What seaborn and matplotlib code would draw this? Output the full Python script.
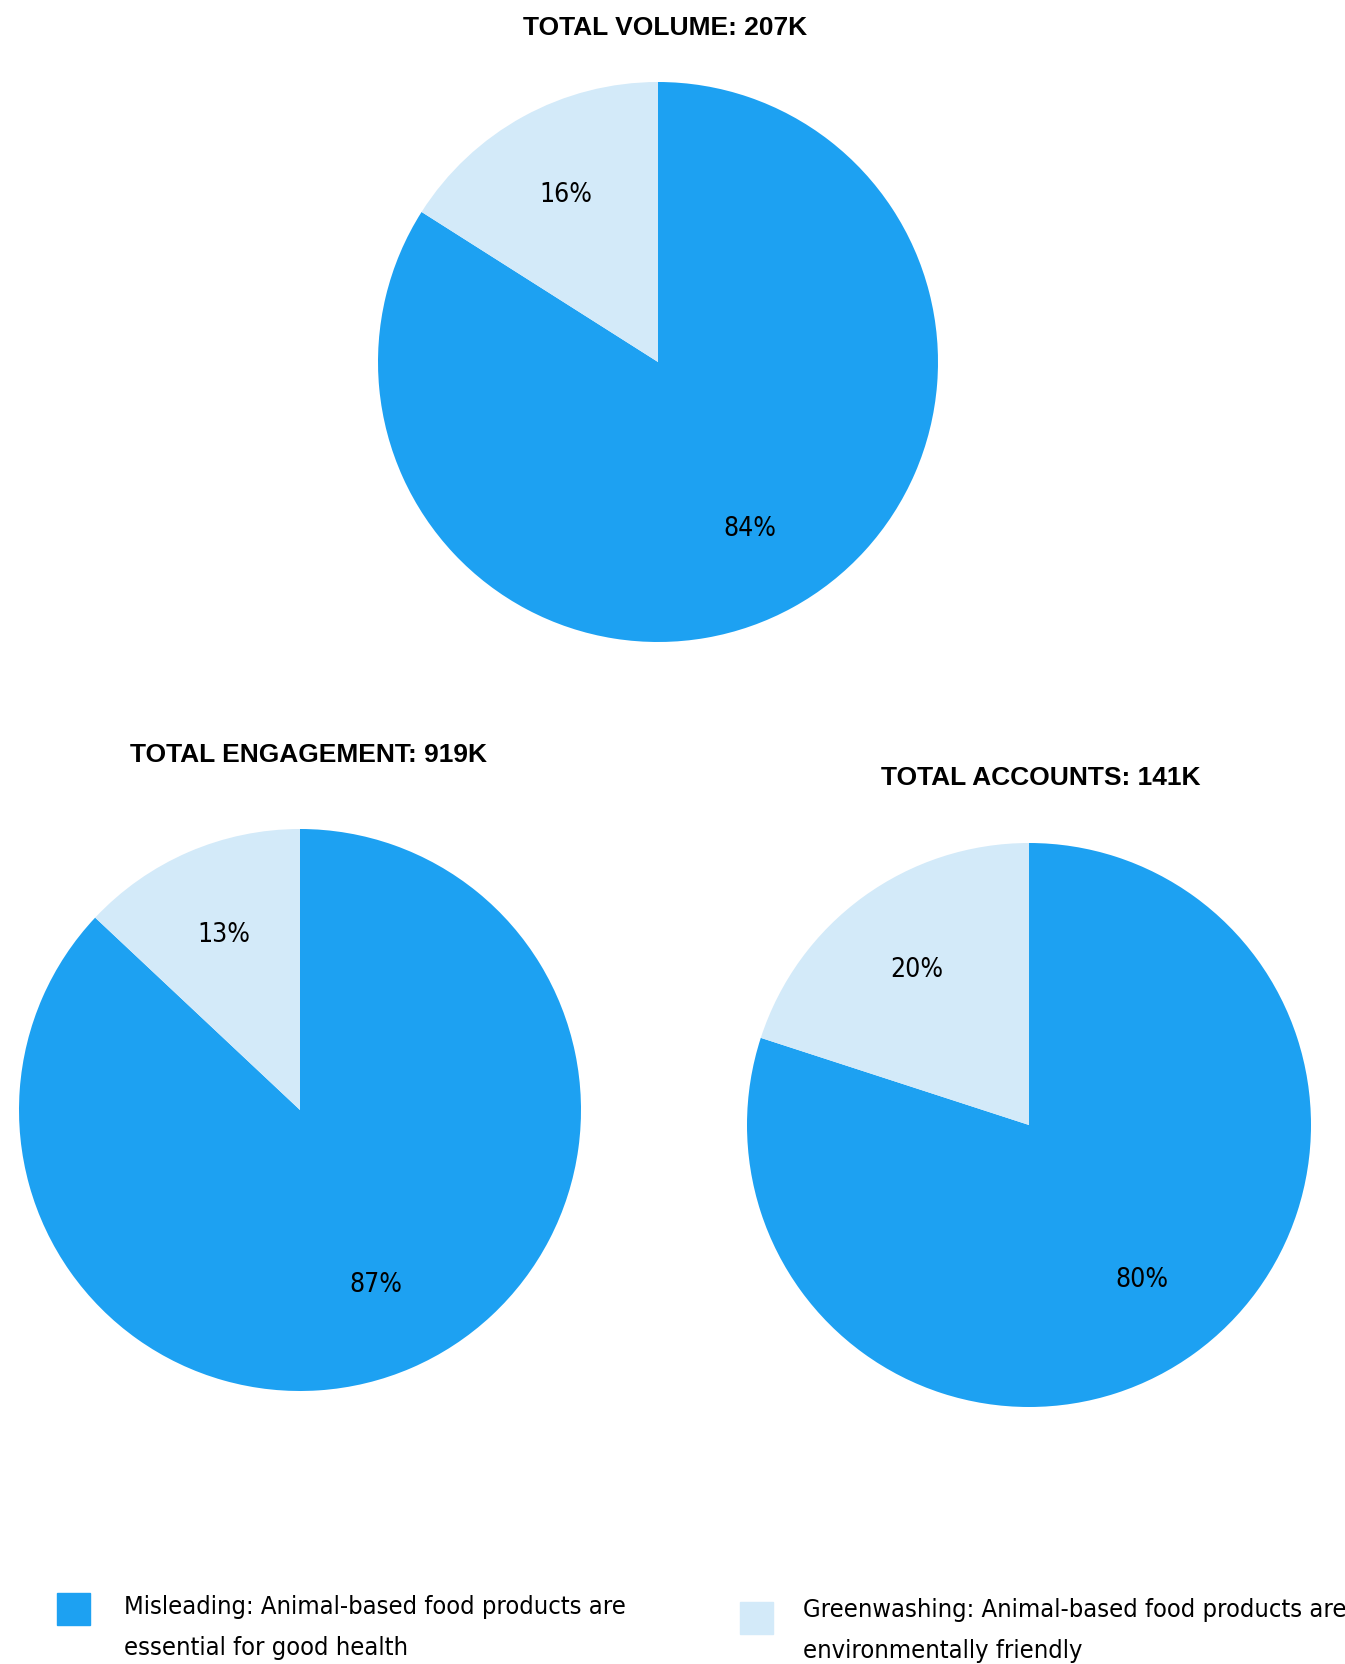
import matplotlib
matplotlib.use("Agg")
import matplotlib.pyplot as plt
import seaborn as sns
from matplotlib.patches import Rectangle

# data
titles = ["TOTAL VOLUME: 207K", "TOTAL ENGAGEMENT: 919K", "TOTAL ACCOUNTS: 141K"]
misleading = [84, 87, 80]
greenwashing = [16, 13, 20]
legend_labels = [
    "Misleading: Animal-based food products are\nessential for good health",
    "Greenwashing: Animal-based food products are\nenvironmentally friendly",
]
colors = ["#1DA1F2", "#D3EAF9"]

sns.set_theme(style="white")
plt.rcParams["font.family"] = ["DejaVu Sans"]
plt.rcParams["font.stretch"] = "condensed"
plt.rcParams["text.color"] = "black"

W, H = 1345, 1664
fig = plt.figure(figsize=(W / 100, H / 100), dpi=100)

# pie centre / radius (px) and title centre (px)
pies = [
    dict(cx=658, cy=362, r=280, tx=665, ty=28),
    dict(cx=300, cy=1110, r=281, tx=308, ty=755),
    dict(cx=1029, cy=1125, r=282, tx=1041, ty=778),
]

for i, p in enumerate(pies):
    ax = fig.add_axes([(p["cx"] - p["r"]) / W, (H - p["cy"] - p["r"]) / H,
                       2 * p["r"] / W, 2 * p["r"] / H])
    ax.pie([misleading[i], greenwashing[i]], colors=colors, startangle=90,
           counterclock=False, autopct="%d%%", pctdistance=0.68,
           wedgeprops=dict(linewidth=0),
           textprops=dict(fontsize=19, color="black"))
    ax.set_xlim(-1, 1)
    ax.set_ylim(-1, 1)
    ax.axis("off")
    fig.text(p["tx"] / W, 1 - p["ty"] / H, titles[i], ha="center", va="center",
             fontsize=19, fontweight="bold", color="black",
             family=["Liberation Sans", "DejaVu Sans"])

# legend, drawn by hand so the swatch sits next to the first line
leg = [dict(sx=57, sy=1593, tx=124, by=1614), dict(sx=740, sy=1602, tx=803, by=1617)]
for lab, col, l in zip(legend_labels, colors, leg):
    fig.patches.append(Rectangle((l["sx"] / W, 1 - (l["sy"] + 32) / H), 33 / W, 32 / H,
                                 transform=fig.transFigure, color=col))
    for k, line in enumerate(lab.split("\n")):
        fig.text(l["tx"] / W, 1 - (l["by"] + 41 * k) / H, line, ha="left",
                 va="baseline", fontsize=18.3, color="black")

fig.savefig("out.png", dpi=100)
